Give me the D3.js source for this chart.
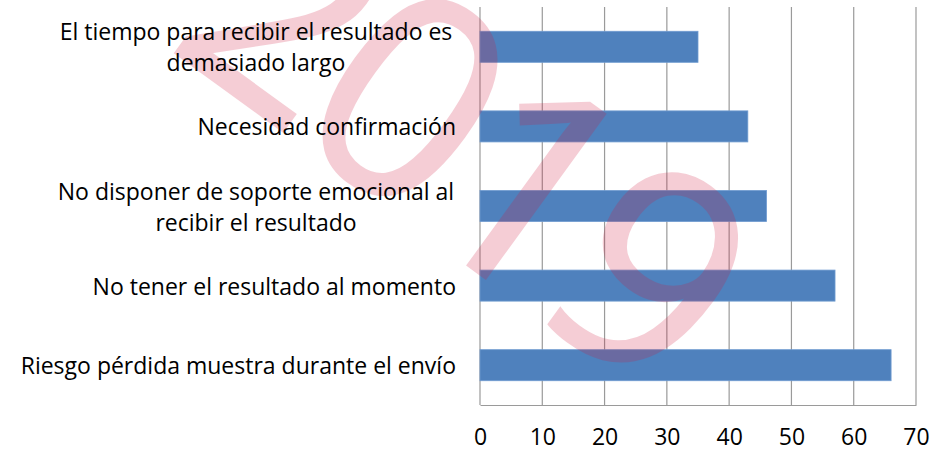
<!DOCTYPE html>
<html>
<head>
<meta charset="utf-8">
<script src="https://cdn.jsdelivr.net/npm/d3@7"></script>
<style>
  body { margin: 0; background: #fff; }
  svg { display: block; font-family: "Open Sans", "Noto Sans", sans-serif; }
</style>
</head>
<body>
<svg id="chart" width="949" height="451"></svg>
<script>
// Data
const categories = [
    ["El tiempo para recibir el resultado es", "demasiado largo"],
    ["Necesidad confirmación"],
    ["No disponer de soporte emocional al", "recibir el resultado"],
    ["No tener el resultado al momento"],
    ["Riesgo pérdida muestra durante el envío"]
];
const values = [35, 43, 46, 57, 66];
const xTicks = [0, 10, 20, 30, 40, 50, 60, 70];
const watermark = "2019";

const svg = d3.select("#chart");
const margin = { top: 7, right: 33, bottom: 46, left: 480 };
const width = 949, height = 451;
const chartWidth = width - margin.left - margin.right;
const chartHeight = height - margin.top - margin.bottom;

const g = svg.append("g").attr("transform", `translate(${margin.left}, ${margin.top})`);

const x = d3.scaleLinear().domain([0, 70]).range([0, chartWidth]);
const y = d3.scaleBand().domain(d3.range(categories.length)).range([0, chartHeight]).paddingInner(0.61).paddingOuter(0.305);

// Luoi doc
g.selectAll(".grid").data(xTicks).join("line")
    .attr("class", "grid")
    .attr("x1", d => x(d)).attr("x2", d => x(d))
    .attr("y1", 0).attr("y2", chartHeight)
    .attr("stroke", "#9a9a9a").attr("stroke-width", 1.2);

// Truc x
const xAxis = g.append("g").attr("transform", `translate(0, ${chartHeight})`)
    .call(d3.axisBottom(x).tickValues(xTicks).tickSize(0).tickPadding(24));
xAxis.select(".domain").attr("stroke", "#9a9a9a").attr("stroke-width", 1.2);
xAxis.selectAll("text").attr("fill", "#000").style("font-size", "23px").style("font-family", "Open Sans, sans-serif");

// Thanh ngang
g.selectAll(".bar").data(values).join("rect")
    .attr("class", "bar")
    .attr("x", x(0))
    .attr("y", (d, i) => y(i))
    .attr("width", d => x(d) - x(0))
    .attr("height", y.bandwidth())
    .attr("fill", "#4f81bd")
    .attr("stroke", "#6f9bd0").attr("stroke-width", 0.8);

// Watermark (nam tren thanh, duoi nhan)
svg.append("g")
    .attr("opacity", 0.21)
    .append("text")
    .attr("transform", "translate(470, 130) rotate(36)")
    .attr("text-anchor", "middle")
    .attr("dominant-baseline", "central")
    .attr("font-size", "285px")
    .attr("font-family", "Open Sans, sans-serif")
    .attr("fill", "rgb(209, 24, 61)")
    .attr("stroke", "rgb(209, 24, 61)")
    .attr("stroke-width", 2)
    .attr("letter-spacing", "-14px")
    .text(watermark);

// Nhan danh muc
const labels = svg.append("g").attr("font-size", "23px").attr("fill", "#000");
categories.forEach((lines, i) => {
    const cy = margin.top + y(i) + y.bandwidth() / 2;
    const lh = 31;
    const t = labels.append("text")
        .attr("text-anchor", lines.length > 1 ? "middle" : "end")
        .attr("dominant-baseline", "central");
    lines.forEach((ln, j) => {
        t.append("tspan")
            .attr("x", lines.length > 1 ? 256 : 456)
            .attr("y", cy + (j - (lines.length - 1) / 2) * lh)
            .text(ln);
    });
});
</script>
</body>
</html>
